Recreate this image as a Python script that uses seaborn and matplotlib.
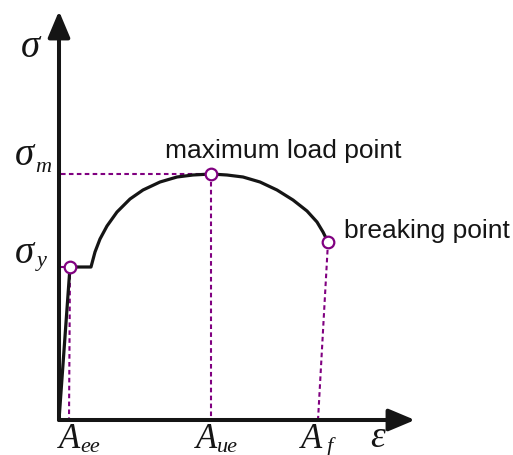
import matplotlib
matplotlib.use("Agg")
import matplotlib.pyplot as plt
from matplotlib.patches import ArrowStyle
import seaborn as sns
import pandas as pd

sns.set_theme(style="white")
plt.rcParams["font.family"] = ["Liberation Sans", "DejaVu Sans"]

# Engineering stress-strain curve (schematic units)
strain = [0.0, 1.1, 3.2, 3.6, 4.1, 4.8, 5.8, 7.1, 8.4, 10.1, 11.8, 13.4, 15.2,
          16.8, 18.4, 20.1, 21.8, 23.4, 24.8, 25.8, 26.4, 26.9]
stress = [0.0, 15.3, 15.3, 16.8, 18.1, 19.4, 20.8, 22.1, 23.0, 23.8, 24.3, 24.5,
          24.6, 24.5, 24.3, 23.8, 23.0, 22.0, 20.9, 19.8, 18.8, 17.8]

# Characteristic points: yield, maximum load, breaking
point_names = ["yield", "maximum load point", "breaking point"]
point_strain = [1.1, 15.2, 26.9]
point_stress = [15.3, 24.6, 17.8]
# Strain read on the axis after unloading from each point
axis_strain = [1.0, 15.2, 25.9]
strain_labels = ["ee", "ue", "f"]
stress_labels = ["y", "m"]
stress_levels = [15.3, 24.6]

curve = pd.DataFrame({"strain": strain, "stress": stress})
points = pd.DataFrame({"strain": point_strain, "stress": point_stress,
                       "name": point_names})

fig = plt.figure(figsize=(5.13, 4.56), dpi=100)
ax = fig.add_axes([0, 0, 1, 1])
ax.set_xlim(-5.9, 45.4)
ax.set_ylim(-3.5, 42.1)
ax.set_axis_off()

purple = "#800080"
ink = "#151515"

# axes with arrow heads
arrow = ArrowStyle("-|>", head_length=1.0, head_width=0.42)
for end in [(35.6, 0.0), (0.0, 40.9)]:
    ax.annotate("", xy=end, xytext=(0.0, 0.0),
                arrowprops=dict(arrowstyle=arrow, mutation_scale=16,
                                color=ink, lw=2.9, shrinkA=0, shrinkB=0),
                zorder=4)

# guide lines from the marked points to the axes
guide = dict(color=purple, lw=1.5, dashes=(2.2, 1.6), zorder=2)
for i, (x, y) in enumerate(zip(point_strain, point_stress)):
    ax.plot([x, axis_strain[i]], [y, 0.0], **guide)
ax.plot([0.2, point_strain[0]], [stress_levels[0]] * 2, **guide)
ax.plot([0.2, point_strain[1]], [stress_levels[1]] * 2, **guide)

# the curve
sns.lineplot(data=curve, x="strain", y="stress", sort=False, estimator=None,
             color=ink, lw=2.3, ax=ax, zorder=3)

# marked points
sns.scatterplot(data=points, x="strain", y="stress", s=70, color="white",
                edgecolor=purple, linewidth=1.6, ax=ax, zorder=5, legend=False)

# annotations
ax.text(22.45, 26.3, point_names[1], fontsize=19, ha="center",
        va="baseline", color=ink)
ax.text(28.5, 18.3, point_names[2], fontsize=19, ha="left",
        va="baseline", color=ink)

serif = dict(family=["Liberation Serif", "DejaVu Serif"], style="italic",
             color=ink)
ax.text(-2.9, 36.4, "σ", fontsize=28, ha="center", va="baseline", **serif)
sig_base = [15.8, 25.6]
sub_base = [15.5, 24.9]
sub_x = [-1.7, -1.6]
for lab, sb, bb, sx in zip(stress_labels, sig_base, sub_base, sub_x):
    ax.text(-3.5, sb, "σ", fontsize=28, ha="center", va="baseline", **serif)
    ax.text(sx, bb, lab, fontsize=16, ha="center", va="baseline", **serif)
A_x = [1.1, 14.8, 25.3]
sub_ax = [3.1, 16.8, 27.1]
for lab, ax_, sx in zip(strain_labels, A_x, sub_ax):
    ax.text(ax_, -2.7, "A", fontsize=25, ha="center", va="baseline", **serif)
    ax.text(sx, -3.15, lab, fontsize=16, ha="center", va="baseline", **serif)
ax.text(31.9, -2.6, "ε", fontsize=27, ha="center", va="baseline", **serif)

fig.savefig("out.png", dpi=100)
